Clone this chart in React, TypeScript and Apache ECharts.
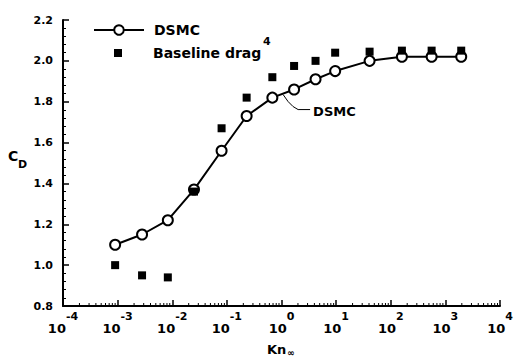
import React, { useEffect, useRef } from "react";
import * as echarts from "echarts";

// Knudsen number (x) for each sample
const knValues = [0.0009, 0.0028, 0.0083, 0.025, 0.08, 0.23, 0.68, 1.7, 4.2, 9.6, 41, 160, 560, 1950];
// DSMC drag coefficient
const dsmcCd = [1.10, 1.15, 1.22, 1.37, 1.56, 1.73, 1.82, 1.86, 1.91, 1.95, 2.00, 2.02, 2.02, 2.02];
// Baseline drag coefficient
const baselineCd = [1.00, 0.95, 0.94, 1.36, 1.67, 1.82, 1.92, 1.975, 2.00, 2.04, 2.045, 2.05, 2.05, 2.05];

const yMin = 0.8;
const yMax = 2.2;
const yStep = 0.2;
const xMin = 1e-4;
const xMax = 1e4;
const decadeExps = [-4, -3, -2, -1, 0, 1, 2, 3];
const minorMultipliers = [2, 3, 4, 5, 6, 7, 8, 9];

const FONT = "DejaVu Sans";

export default function App() {
  const ref = useRef<HTMLDivElement>(null);
  useEffect(() => {
    if (!ref.current) return;
    const chart = echarts.init(ref.current, null, { renderer: "svg" });

    const minorTicks: number[][] = [];
    decadeExps.forEach((e) => {
      minorMultipliers.forEach((m) => {
        minorTicks.push([m * Math.pow(10, e), yMin]);
      });
    });

    const baseGraphics: any[] = [
      { type: "text", left: 8, top: 149, style: { text: "C", font: `bold 14px "${FONT}"`, fill: "#000" } },
      { type: "text", left: 18, top: 159, style: { text: "D", font: `bold 11px "${FONT}"`, fill: "#000" } },
      { type: "text", left: 267, top: 343, style: { text: "Kn", font: `bold 13px "${FONT}"`, fill: "#000" } },
      { type: "text", left: 287, top: 348, style: { text: "∞", font: `bold 9px "${FONT}"`, fill: "#000" } },
      { type: "text", left: 263, top: 36, style: { text: "4", font: `bold 11px "${FONT}"`, fill: "#000" } },
    ];

    const option: any = {
      animation: false,
      backgroundColor: "#fff",
      grid: {
        left: 63,
        right: 14,
        top: 20,
        bottom: 54,
        containLabel: false,
        outerBoundsMode: "none",
      },
      legend: [
        {
          data: ["DSMC"],
          left: 93,
          top: 23,
          padding: 0,
          itemWidth: 50,
          itemHeight: 12,
          orient: "vertical",
          selectedMode: false,
          textStyle: {
            fontFamily: FONT,
            fontWeight: "bold",
            fontSize: 14,
            color: "#000",
            padding: [0, 0, 0, 5],
          },
        },
        {
          data: [{ name: "Baseline drag", icon: "rect", itemStyle: { color: "#000", opacity: 1 } }],
          left: 114,
          top: 46,
          padding: 0,
          itemWidth: 8,
          itemHeight: 8,
          orient: "vertical",
          selectedMode: false,
          textStyle: {
            fontFamily: FONT,
            fontWeight: "bold",
            fontSize: 14,
            color: "#000",
            padding: [0, 0, 0, 26],
          },
        },
      ],
      xAxis: {
        type: "log",
        logBase: 10,
        min: xMin,
        max: xMax,
        axisLine: { show: true, onZero: false, lineStyle: { color: "#000", width: 2 } },
        axisTick: { show: true, inside: true, length: 6, lineStyle: { color: "#000", width: 1.5 } },
        minorTick: { show: false },
        splitLine: { show: false },
        axisLabel: {
          show: true,
          margin: 5,
          hideOverlap: false,
          showMinLabel: true,
          showMaxLabel: true,
          formatter: (v: number) => `{b|10}{s|${Math.round(Math.log10(v))}}`,
          rich: {
            b: { fontFamily: FONT, fontWeight: "bold", fontSize: 13, color: "#000", lineHeight: 24, verticalAlign: "bottom" },
            s: { fontFamily: FONT, fontWeight: "bold", fontSize: 11, color: "#000", lineHeight: 16, verticalAlign: "top" },
          },
        },
      },
      yAxis: {
        type: "value",
        min: yMin,
        max: yMax,
        interval: yStep,
        axisLine: { show: true, onZero: false, lineStyle: { color: "#000", width: 2 } },
        axisTick: { show: true, inside: true, length: 6, lineStyle: { color: "#000", width: 1.5 } },
        minorTick: { show: true, splitNumber: 5, length: 3, lineStyle: { color: "#000", width: 1 } },
        splitLine: { show: false },
        axisLabel: {
          margin: 10,
          formatter: (v: number) => v.toFixed(1),
          fontFamily: FONT,
          fontWeight: "bold",
          fontSize: 11,
          color: "#000",
        },
      },
      series: [
        {
          name: "minorX",
          type: "custom",
          silent: true,
          data: minorTicks,
          renderItem: (params: any, api: any) => {
            const p = api.coord([api.value(0), api.value(1)]);
            return {
              type: "line",
              shape: { x1: p[0], y1: p[1], x2: p[0], y2: p[1] - 3 },
              style: { stroke: "#000", lineWidth: 1 },
            };
          },
          z: 1,
        },
        {
          name: "DSMC",
          type: "line",
          data: knValues.map((k, i) => [k, dsmcCd[i]]),
          symbol: "circle",
          symbolSize: 10,
          showSymbol: true,
          lineStyle: { color: "#000", width: 2 },
          itemStyle: { color: "#fff", borderColor: "#000", borderWidth: 2 },
          z: 2,
        },
        {
          name: "Baseline drag",
          type: "scatter",
          data: knValues.map((k, i) => [k, baselineCd[i]]),
          symbol: "rect",
          symbolSize: 8,
          itemStyle: { color: "#000", opacity: 1 },
          z: 3,
        },
      ],
      graphic: baseGraphics,
    };

    chart.setOption(option);

    // DSMC annotation with leader line, anchored on the DSMC curve
    const anchor = chart.convertToPixel({ gridIndex: 0 }, [1.07, 1.835]) as number[];
    const ax = anchor[0];
    const ay = anchor[1];
    chart.setOption({
      graphic: [
        ...baseGraphics,
        {
          type: "polyline",
          shape: {
            points: [
              [ax, ay],
              [ax + 5, ay + 7],
              [ax + 10, ay + 12],
              [ax + 15, ay + 15],
              [ax + 27, ay + 15],
            ],
          },
          style: { stroke: "#000", lineWidth: 1, fill: "none" },
        },
        {
          type: "text",
          x: ax + 30,
          y: ay + 17,
          style: { text: "DSMC", font: `bold 13px "${FONT}"`, fill: "#000", verticalAlign: "middle" },
        },
      ],
    });

    return () => chart.dispose();
  }, []);
  return <div ref={ref} style={{ position: "absolute", left: 0, top: 0, width: 514, height: 360 }} />;
}
